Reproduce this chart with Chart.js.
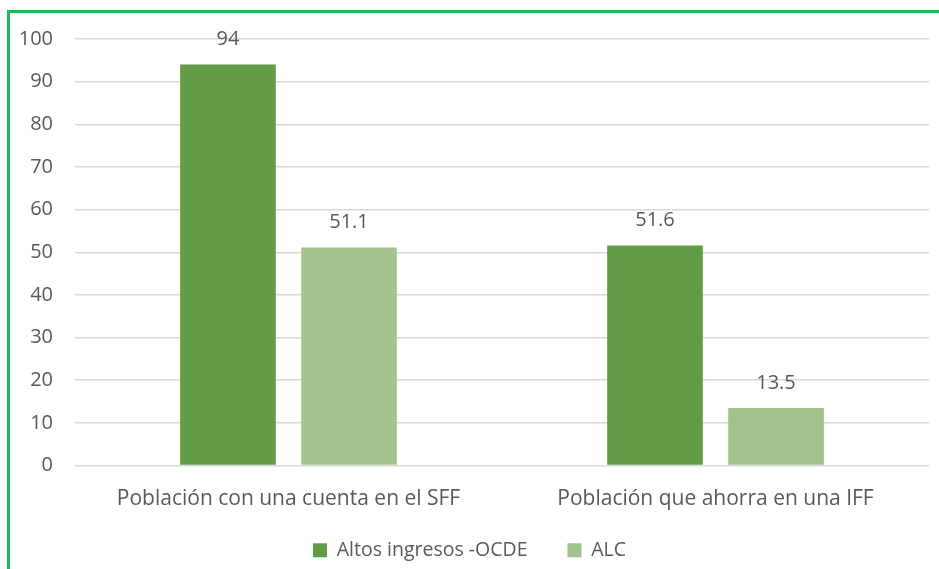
<!DOCTYPE html>
<html>
<head>
<meta charset="utf-8">
<script src="https://cdn.jsdelivr.net/npm/chart.js@4.4.0/dist/chart.umd.min.js"></script>
<style>
  body { margin: 0; background: #fff; overflow: hidden; }
  #frame {
    position: absolute; left: 7px; top: 10px;
    width: 960px; height: 600px;
    border: 3px solid #1db954;
  }
  #wrap { position: absolute; left: 0; top: 0; width: 929px; height: 556px; }
</style>
</head>
<body>
<div id="frame">
  <div id="wrap"><canvas id="myChart"></canvas></div>
</div>
<script>
'use strict';

// categories and series
const categories = ['Población con una cuenta en el SFF', 'Población que ahorra en una IFF'];
const seriesNames = ['Altos ingresos -OCDE', 'ALC'];
const altosValues = [94, 51.6];
const alcValues = [51.1, 13.5];
const yTicks = [0, 10, 20, 30, 40, 50, 60, 70, 80, 90, 100];

const textColor = '#595959';
const fontFamily = '"Open Sans", sans-serif';

// draw value labels above the bars
const valueLabels = {
  id: 'valueLabels',
  afterDatasetsDraw(chart) {
    const ctx = chart.ctx;
    ctx.save();
    ctx.fillStyle = textColor;
    ctx.font = '20px ' + fontFamily;
    ctx.textAlign = 'center';
    ctx.textBaseline = 'middle';
    chart.data.datasets.forEach((ds, i) => {
      chart.getDatasetMeta(i).data.forEach((bar, j) => {
        ctx.fillText(String(ds.data[j]), bar.x, bar.y - 25);
      });
    });
    ctx.restore();
  }
};

let ctx = document.getElementById('myChart').getContext('2d');
let chart = new Chart(ctx, {
  type: 'bar',
  data: {
    labels: categories,
    datasets: [{
      label: seriesNames[0],
      data: altosValues,
      backgroundColor: '#629c44'
    },
    {
      label: seriesNames[1],
      data: alcValues,
      backgroundColor: '#a0c48c'
    }]
  },
  options: {
    responsive: true,
    maintainAspectRatio: false,
    animation: false,
    categoryPercentage: 0.567,
    barPercentage: 0.79,
    layout: { padding: { top: 26, right: 10, left: 0, bottom: -1 } },
    plugins: {
      tooltip: { enabled: false },
      legend: {
        position: 'bottom',
        labels: {
          color: textColor,
          font: { family: fontFamily, size: 19.5 },
          boxWidth: 14,
          boxHeight: 14,
          padding: 40
        }
      }
    },
    scales: {
      x: {
        grid: { display: false },
        border: { display: false },
        ticks: {
          color: textColor,
          font: { family: fontFamily, size: 21 },
          padding: 13
        },
        afterFit(scale) {
          scale.height = 35;
          // labels reach into the legend's empty padding, so do not clip them
          scale._computeLabelArea = () => null;
        }
      },
      y: {
        min: 0,
        max: 100,
        afterBuildTicks(scale) { scale.ticks = yTicks.map(v => ({ value: v })); },
        grid: { color: '#d9d9d9', lineWidth: 1.5, drawTicks: false },
        border: { display: false },
        ticks: {
          color: textColor,
          font: { family: fontFamily, size: 20 },
          padding: 22
        },
        afterFit(scale) {
          scale.width = 65;
          scale.paddingTop = 0;
          scale.paddingBottom = 0;
        }
      }
    }
  },
  plugins: [valueLabels]
});
</script>
</body>
</html>
